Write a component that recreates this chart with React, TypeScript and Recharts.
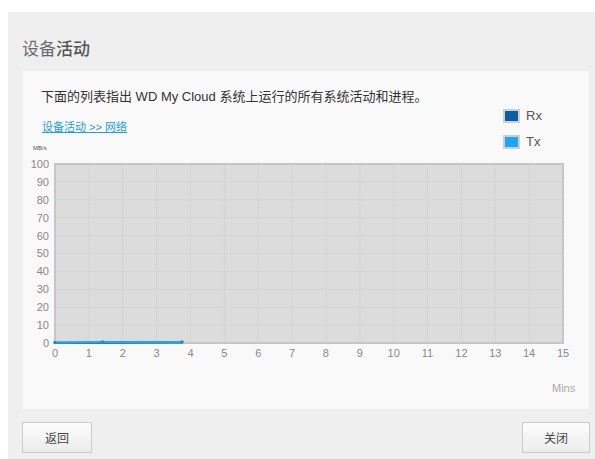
import React from "react";
import { LineChart, Line, XAxis, YAxis, CartesianGrid, ReferenceArea } from "recharts";

const minutes = [0, 1.4, 3.75];
const rxValues = [0.1, 0.2, 0.3];
const txValues = [0.3, 0.5, 0.6];
const xTicks = [0, 1, 2, 3, 4, 5, 6, 7, 8, 9, 10, 11, 12, 13, 14, 15];
const yTicks = [0, 10, 20, 30, 40, 50, 60, 70, 80, 90, 100];

const data = minutes.map((m, i) => ({ m, rx: rxValues[i], tx: txValues[i] }));

const FONT = "'Liberation Sans', Arial, 'Noto Sans CJK SC', sans-serif";

export default function App() {
  return (
    <div style={{ position: "absolute", left: 0, top: 0, width: 595, height: 459, background: "#fff", overflow: "hidden", fontFamily: FONT }}>
      {/* outer panel */}
      <div style={{ position: "absolute", left: 8, top: 12, width: 587, height: 447, background: "#efefef" }} />
      {/* title */}
      <div style={{ position: "absolute", left: 22, top: 37, fontSize: 17, color: "#6a6a6a", fontFamily: "'Noto Sans CJK SC', sans-serif", lineHeight: "22px" }}>
        设备<span style={{ color: "#555", fontWeight: 500 }}>活动</span>
      </div>
      {/* inner white box */}
      <div style={{ position: "absolute", left: 23, top: 71, width: 566, height: 338, background: "#f9f9f9" }} />
      <div style={{ position: "absolute", left: 41, top: 89, fontSize: 13, color: "#333", lineHeight: "16px", whiteSpace: "nowrap" }}>
        下面的列表指出 WD My Cloud 系统上运行的所有系统活动和进程。
      </div>
      <div style={{ position: "absolute", left: 42, top: 120, fontSize: 11, color: "#1a9fe0", textDecoration: "underline", lineHeight: "14px", whiteSpace: "nowrap" }}>
        设备活动 &gt;&gt; 网络
      </div>
      <div style={{ position: "absolute", left: 33, top: 145, fontSize: 6, color: "#555", lineHeight: "7px" }}>MB/s</div>
      {/* legend */}
      <div style={{ position: "absolute", left: 503, top: 109, width: 13, height: 10, background: "#0a5ea6", border: "2px solid #cfcfcf" }} />
      <div style={{ position: "absolute", left: 526, top: 108, fontSize: 13, color: "#555", lineHeight: "16px" }}>Rx</div>
      <div style={{ position: "absolute", left: 503, top: 135, width: 13, height: 10, background: "#19a8f7", border: "2px solid #cfcfcf" }} />
      <div style={{ position: "absolute", left: 526, top: 134, fontSize: 13, color: "#555", lineHeight: "16px" }}>Tx</div>
      {/* chart */}
      <div style={{ position: "absolute", left: 0, top: 0 }}>
        <LineChart width={595} height={459} data={data} margin={{ top: 164, right: 32, bottom: 86, left: 0 }}>
          <CartesianGrid fill="#dcdcdc" stroke="#d3d3d3" strokeWidth={1} verticalValues={xTicks} horizontalValues={yTicks} />
          <XAxis
            dataKey="m"
            type="number"
            domain={[0, 15]}
            ticks={xTicks}
            height={30}
            axisLine={false}
            tickLine={false}
            tickSize={0}
            tickMargin={6}
            tick={{ fill: "#888", fontSize: 11, fontFamily: FONT }}
            interval={0}
          />
          <YAxis
            type="number"
            domain={[0, 100]}
            ticks={yTicks}
            width={55}
            axisLine={false}
            tickLine={false}
            tickSize={0}
            tickMargin={6}
            tick={{ fill: "#888", fontSize: 11, fontFamily: FONT }}
            interval={0}
          />
          <ReferenceArea x1={0} x2={15} y1={0} y2={100} fill="none" fillOpacity={0} stroke="#c6c6c6" strokeWidth={2} ifOverflow="visible" />
          <Line dataKey="rx" stroke="#0a5ea6" strokeWidth={2} dot={false} isAnimationActive={false} />
          <Line dataKey="tx" stroke="#19a8f7" strokeWidth={2} dot={{ r: 1.8, fill: "#1590d8", stroke: "none" }} isAnimationActive={false} />
        </LineChart>
      </div>
      <div style={{ position: "absolute", left: 552, top: 382, fontSize: 11, color: "#aaa", lineHeight: "13px" }}>Mins</div>
      {/* buttons */}
      <div style={{ position: "absolute", left: 22, top: 422, width: 68, height: 29, border: "1px solid #cbcbcb", background: "linear-gradient(#fdfdfd, #ececec)", fontSize: 12, color: "#444", display: "flex", alignItems: "center", justifyContent: "center", fontFamily: "'Noto Sans CJK SC', sans-serif" }}>返回</div>
      <div style={{ position: "absolute", left: 522, top: 422, width: 66, height: 29, border: "1px solid #cbcbcb", background: "linear-gradient(#fdfdfd, #ececec)", fontSize: 12, color: "#444", display: "flex", alignItems: "center", justifyContent: "center", fontFamily: "'Noto Sans CJK SC', sans-serif" }}>关闭</div>
    </div>
  );
}
